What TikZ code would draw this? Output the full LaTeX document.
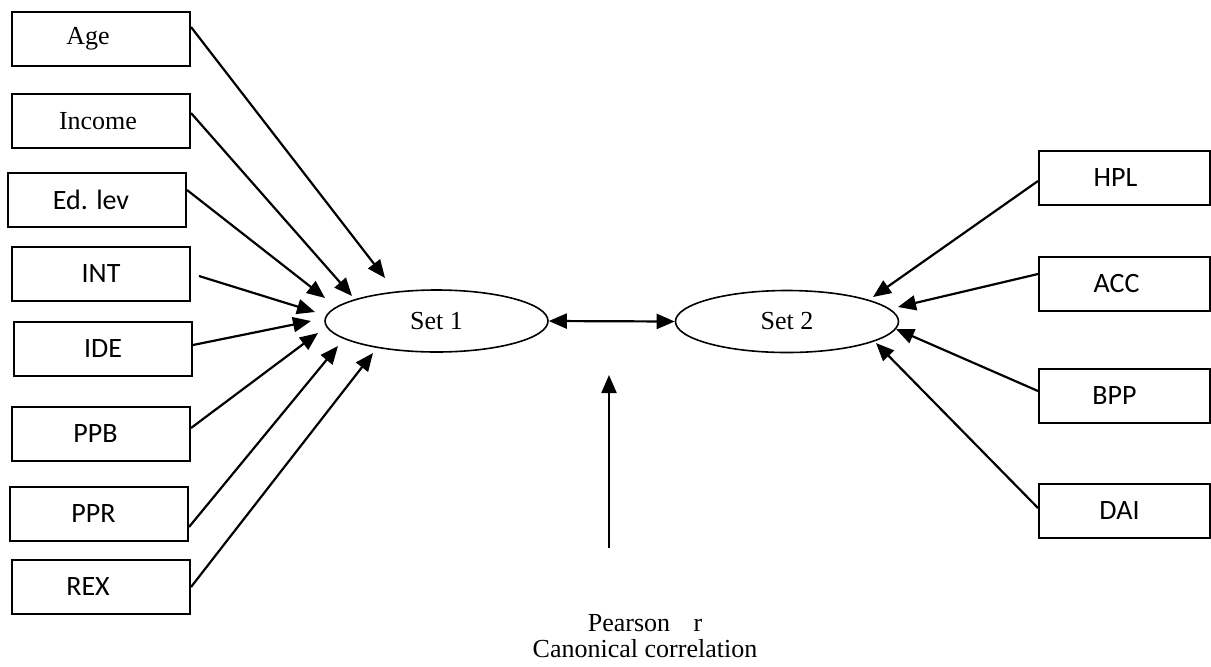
\documentclass[tikz,border=0pt]{standalone}
\usepackage{fontspec}
\setmainfont{Liberation Serif}
\newfontfamily\calib{Carlito}
\usetikzlibrary{arrows.meta,shapes.geometric}
\begin{document}
\begin{tikzpicture}[x=0.5pt,y=-0.5pt,
  lbox/.style={draw,line width=1pt,minimum width=89pt,minimum height=27pt,inner sep=0pt},
  rbox/.style={draw,line width=1pt,minimum width=85.5pt,minimum height=27pt,inner sep=0pt},
  tms/.style={font=\fontsize{13}{15}\selectfont},
  cal/.style={font=\calib\fontsize{14}{16}\selectfont},
  setell/.style={draw,ellipse,line width=0.8pt,minimum width=111.5pt,minimum height=31pt,inner sep=0pt,font=\fontsize{13}{15}\selectfont},
  arr/.style={line width=1.1pt,-{Triangle[length=9pt,width=7.5pt]}},
  darr/.style={line width=1.1pt,{Triangle[length=9pt,width=7.5pt]}-{Triangle[length=9pt,width=7.5pt]}}]
\useasboundingbox (0,0) rectangle (1211,666);
% left boxes
\node[lbox,tms] (age) at (101,39) {\hspace*{-13pt}Age};
\node[lbox,tms] (inc) at (101,121) {\hspace*{-3pt}Income};
\node[lbox,cal] (edl) at (97,200) {\hspace*{-6pt}Ed. lev};
\node[lbox,cal] (int) at (101,274) {INT};
\node[lbox,cal] (ide) at (103,349) {IDE};
\node[lbox,cal] (ppb) at (101,434) {\hspace*{-5.5pt}PPB};
\node[lbox,cal] (ppr) at (99,514) {\hspace*{-5.5pt}PPR};
\node[lbox,cal] (rex) at (101,587) {\hspace*{-13pt}REX};
% right boxes
\node[rbox,cal] (hpl) at (1124.5,178) {\hspace*{-9pt}HPL};
\node[rbox,cal] (acc) at (1124.5,284) {\hspace*{-8pt}ACC};
\node[rbox,cal] (bpp) at (1124.5,396) {\hspace*{-10pt}BPP};
\node[rbox,cal] (dai) at (1124.5,511) {\hspace*{-5pt}DAI};
% ellipses
\node[setell] (s1) at (436.5,321) {Set 1};
\node[setell] (s2) at (787,321.5) {Set 2};
% tip coordinates
\coordinate (tage) at (385,278);
\coordinate (tinc) at (352,296);
\coordinate (tedl) at (325,298);
\coordinate (tint) at (315,312);
\coordinate (tide) at (311,321);
\coordinate (tppb) at (318,333);
\coordinate (tppr) at (338,346);
\coordinate (trex) at (373,353);
\coordinate (thpl) at (873,297);
\coordinate (tacc) at (898,307);
\coordinate (tbpp) at (896,329);
\coordinate (tdai) at (876,343);
\coordinate (pbot) at (609,548);
\coordinate (ptop) at (609,375);
% arrows
\draw[arr] ([yshift=6pt]age.east) -- (tage);
\draw[arr] ([yshift=4pt]inc.east) -- (tinc);
\draw[arr] ([yshift=5pt]edl.east) -- (tedl);
\draw[arr] ([xshift=4pt,yshift=-1pt]int.east) -- (tint);
\draw[arr] ([yshift=2pt]ide.east) -- (tide);
\draw[arr] ([yshift=3pt]ppb.east) -- (tppb);
\draw[arr] ([yshift=-6.5pt]ppr.east) -- (tppr);
\draw[arr] (rex.east) -- (trex);
\draw[arr] ([yshift=-1.5pt]hpl.west) -- (thpl);
\draw[arr] ([yshift=5pt]acc.west) -- (tacc);
\draw[arr] ([yshift=2.5pt]bpp.west) -- (tbpp);
\draw[arr] ([yshift=1.5pt]dai.west) -- (tdai);
\draw[darr] (s1.east) -- (s2.west);
\draw[arr] (pbot) -- (ptop);
% caption
\node[tms,align=center,font=\fontsize{13}{13}\selectfont] (cap) at (645,636) {Pearson\hspace{0.9em}r\\Canonical correlation};
\end{tikzpicture}
\end{document}
